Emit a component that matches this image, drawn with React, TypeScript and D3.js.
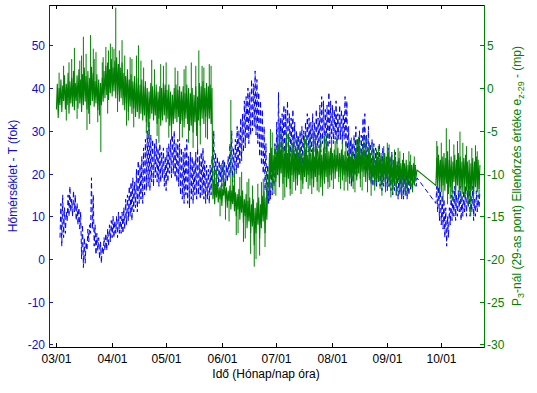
import React from "react";
import * as d3 from "d3";

// ---- Data ----
// Days counted from 03/01. Daily low / high of the temperature (left axis, °C)
const BLUE_START = 2;
const blueLo = [5,3,5,6,9,10,11,10,11,9,8,7,0,-2,-1,2,4,6,7,3,1,2,0,-1,1,2,2,3,4,5,5,6,5,6,6,6,7,8,9,10,9,11,12,11,13,14,13,15,16,17,16,18,17,19,18,17,18,19,17,16,18,20,19,20,19,18,17,15,14,13,15,13,12,14,13,15,14,15,14,15,14,13,14,13,15,18,17,18,17,18,17,18,17,18,19,20,18,19,20,21,22,23,25,26,28,27,29,30,31,29,27,24,22,20,16,14,13,14,15,17,19,21,22,23,25,24,26,25,24,25,23,22,21,20,21,22,23,24,25,24,25,24,25,24,26,25,27,26,25,26,27,28,27,28,27,28,28,27,28,26,22,19,17,18,20,19,21,20,22,21,20,21,19,18,17,18,17,18,17,16,17,16,16,17,16,15,16,15,14,15,14,14,15,14,15,16,16,17,17];
const blueHi = [13,15,12,11,15,17,14,16,15,13,12,11,8,5,4,7,8,19,15,8,6,5,4,3,5,6,7,8,9,10,9,10,11,10,11,12,14,15,17,18,19,18,21,23,22,24,26,28,30,32,29,28,27,28,26,27,25,26,24,26,27,28,29,30,27,28,27,26,25,26,28,24,25,24,23,25,26,24,25,26,23,22,21,22,24,30,25,24,23,22,23,23,22,24,27,30,26,28,31,30,33,34,37,38,40,39,42,41,44,42,39,37,35,31,27,22,20,21,23,27,32,39,33,34,36,35,37,34,33,35,32,30,29,30,31,30,32,34,33,32,34,32,35,33,36,38,37,35,36,39,37,36,35,37,34,36,35,34,38,37,31,28,27,29,31,28,30,29,33,34,29,31,27,28,27,26,25,27,24,26,25,24,26,24,25,23,25,22,23,21,22,20,21,20,21,20,21,22,19];
const BLUE_LATE_START = 211;
const blueLoLate = [13,11,9,8,7,5,3,5,8,9,10,9,10,11,9,10,11,10,12,10,11,9,10,11,12];
const blueHiLate = [17,17,16,15,14,12,10,12,15,16,17,15,16,17,15,16,17,16,17,15,17,14,16,15,16];

// Daily low / high of the check value (right axis, mp)
const GREEN_START = 0;
const greenLo = [-2.5,-3.5,-2,-2.8,-1.5,-2.5,-2,-3,-1.8,-2.2,-2.6,-1.5,-2.4,-1.8,-2.8,-2,-1.6,-2.5,-3,-2,-1.5,-2.2,-1.8,-2.6,-3.2,-2,-1.6,-1.2,-0.8,-1.4,-0.6,-1,-0.4,-1.2,-0.8,-1.6,-1.2,-2,-2.6,-1.8,-2.8,-2.2,-3,-2.4,-3.4,-2.8,-3.6,-3,-3.8,-3.2,-4,-4.6,-3.6,-3,-3.8,-3.2,-4.2,-3.6,-4.4,-3.8,-3.2,-4,-3.6,-4.4,-5,-4.2,-3.6,-4,-3.4,-4.2,-3.8,-4.6,-3.6,-4.2,-5,-4.4,-5.2,-4,-5.6,-3.8,-4.4,-3.6,-4.2,-3.4,-4,-3.6,-4.2,-13,-13.6,-12.8,-13.4,-13,-13.8,-12.6,-13.4,-14,-13.2,-14.2,-13.6,-14.4,-15,-14.2,-15.4,-14.6,-15.8,-15,-16.4,-15.6,-17,-16.2,-18.4,-17,-16,-17.6,-16.4,-15.6,-17,-15.4,-11.4,-10.6,-11.8,-10.4,-11,-10.2,-11.6,-10,-11.2,-10.4,-11.6,-10.6,-11.8,-10.2,-11,-10.6,-11.4,-10.2,-10.8,-11.2,-10.4,-11,-10.2,-11.4,-10.6,-11.6,-10.4,-11,-10.2,-11.6,-10.8,-11.2,-10.4,-11,-10.2,-10.8,-10,-10.6,-9.8,-10.4,-10,-10.8,-10.2,-11,-10.4,-11.2,-10.6,-11,-10.2,-10.8,-10,-10.6,-9.8,-10.4,-11,-10.2,-10.8,-11.2,-10.6,-11.4,-10.8,-11,-10.4,-11.2,-10.6,-11.4,-10.8,-11.6,-11,-11.8,-11.2,-11.6,-11,-11.8,-11.2,-11.6,-11,-11.8,-11.2,-11.6,-11,-11.4,-10.4];
const greenHi = [0.5,0,1,0.3,1.5,0.5,1.8,0.8,1.2,2,0.6,1.5,2.2,1,1.6,2.4,1.4,2,1.2,2.5,1.8,0.8,1.6,1,0.6,1.2,2,2.6,3,2.2,3.4,2.4,3.2,3.6,2.8,2.4,3,1.8,1.4,2.2,1,1.6,0.8,1.4,0.6,1.2,0.4,1,0.2,0.8,0,-0.4,0.6,0.2,-0.2,0.4,-0.4,0.2,0,0.6,0.4,-0.2,0.4,-0.4,-0.8,0,0.4,-0.2,0.2,-0.4,0.2,-0.6,0.4,0,-0.6,0,-0.8,0.2,-1,0.6,0.2,0.8,0,0.6,0.2,0.4,0,-10.8,-11.2,-11,-11.6,-11.4,-11.8,-11,-11.6,-12,-11.4,-12,-11.4,-12.2,-12.4,-11.8,-12.6,-12,-13,-12.4,-13.2,-12.8,-13.6,-13,-14,-13.4,-12.8,-13.6,-12.6,-12,-12.8,-11.8,-7.6,-7,-7.8,-6.8,-7.4,-6.6,-7.2,-6.2,-7,-6.4,-7.6,-6.8,-7.2,-6.4,-7.6,-7.2,-8,-7,-7.6,-8,-7.2,-7.8,-6.8,-7.6,-7,-8,-6.8,-7.4,-6.6,-7.8,-7,-7.6,-6.8,-7.4,-7,-7.6,-7.2,-7.8,-7,-7.6,-7.2,-7.8,-7.4,-8,-7.6,-8.2,-7.4,-8,-7.2,-7.6,-6.8,-7.4,-6.6,-7.2,-7.8,-7,-7.6,-8.2,-7.8,-8.4,-8,-8.2,-7.6,-8.2,-7.6,-8,-7.4,-8.2,-7.8,-8.4,-8,-8.6,-8.2,-8.8,-8.4,-8.8,-8.4,-9,-8.6,-9,-8.8,-9.2,-9.6];
const GREEN_LATE_START = 211;
const greenLoLate = [-11.4,-12,-11,-12.2,-11.4,-12,-11.2,-12.4,-11.6,-12.2,-11,-12,-11.4,-12.2,-11.6,-12.4,-11.2,-12,-12.6,-13.2,-12,-12.4,-11.6,-12.2,-11.8];
const greenHiLate = [-8.2,-7.8,-8.4,-8,-7.6,-8.2,-7.4,-8.4,-8,-8.6,-7.8,-8.4,-7.6,-8,-8.6,-8.2,-7.8,-8.6,-8.4,-8.8,-8.2,-8.6,-8,-8.4,-9];
// Isolated spikes of the check value: day, value
const greenSpikeDays = [4,7,10,13,15,17,19,21,22,24.7,26,29,31,33,35,38,40,42,45.6,47,50,53,56,58,61,64,66,70,72,75,76,78.5,79.2,81,83,85,89,92,94,97,99,101,103,105,107,110,112,113,115,116,119,121,124,126,128,130,134,137,139,143,146,149,151,155,157,163,165,168,170,172,178,180,185,187,190,194,196,212,216.8,220,224.4,227,230.4,233,
  1.5,5.5,8.5,11.5,14,16.5,18.5,20.5,23,25.5,27.5,28.5,30,32,34,36.5,39,41,43,44.5,48.5,51.5,54.5,57,59.5,62.5,67.5,68.5,71,73.5,77.5,80,82,84,86,
  88,91,93,96,98,100,102,104,106,108,109,111,114,117,
  118.5,120,122,123,125,127,129,131,132,133,135,136,138,140,141,142,144,145,147,148,150,152,153,154,156,158,159,160,161,162,164,166,167,169,171,173,174,175,176,177,179,181,182,183,184,186,188,189,191,192,193,195,197,198,199,
  211.5,213,214,215,217.5,218.5,219,221,222,223,225,226,228,229,231,232,234,235];
const greenSpikeVals = [2.6,3,4.7,3.2,6,-4.9,6.2,3.4,4.2,-7.5,3.6,4.4,4.8,9.4,4.4,3.8,-3.8,3.4,5,3.2,-5.3,3.3,-5.6,2.8,3,-6.1,2.4,-5.8,2.6,3,-7,-7.3,4.4,2.6,-5.8,2.8,-9.4,-8.8,-15.4,-1.4,-9.6,-17,-9.8,-17.6,-10.6,-20.9,-11.2,-19.6,-10.6,-18.6,-4.8,-12.4,-4.1,-13.1,-5.2,-12.6,-5.6,-11.8,-6,-5.3,-12.2,-5.6,-11.8,-6.2,-11,-6.4,-11.8,-5.7,-12,-6,-7.2,-11.8,-6.6,-12.4,-7,-12.6,-7.4,-6.8,-4.7,-13.2,-5.1,-12.8,-15,-6.7,
  1.8,-3.8,3.4,-3.6,3.8,4,-4.2,4.6,-4,3,4.8,-3,5.2,4.6,-2.8,5.6,-4.4,3.6,-4.6,3.8,2.4,-6,2.2,-6.4,2.6,-5.8,2,-6.2,2.2,-6.4,2.6,-6.6,2.4,-6,2.6,
  -9.6,-15,-8.4,-15.6,-10.2,-17.2,-10.4,-18,-11,-19.4,-11.4,-20,-11,-9.8,
  -13.2,-5.2,-12.6,-5.4,-4.8,-12.8,-5.4,-12.4,-5.8,-12,-6,-12.4,-5.6,-11.8,-5.4,-12.4,-5.6,-12,-5.8,-12.6,-5.4,-11.6,-6,-11.8,-5.8,-11.8,-6.2,-12,-6.4,-12,-5.8,-12.2,-6,-11.6,-5.6,-12.2,-6.4,-12.6,-6.6,-12,-6.8,-12.6,-6.8,-12.2,-6.4,-12.8,-7.2,-12.6,-7.4,-12.8,-7.6,-12.4,-7.8,-12.2,-8,
  -6.2,-13,-6.4,-13.4,-13.6,-6,-13,-6.6,-13.2,-6.2,-13.4,-6.4,-6.8,-13.6,-7,-13.2,-7.4,-13];

// Axis ticks
const xTickDays = [0, 31, 61, 92, 122, 153, 184, 214];
const xTickLabels = ["03/01", "04/01", "05/01", "06/01", "07/01", "08/01", "09/01", "10/01"];
const leftTicks = [-20, -10, 0, 10, 20, 30, 40, 50];
const rightTicks = [-30, -25, -20, -15, -10, -5, 0, 5];

const W = 537, H = 393;
const X0 = 49, X1 = 484, Y0 = 5, Y1 = 347;
const BLUE = "#0000ff";
const GREEN = "#008000";
const FONT = "'Liberation Sans', Arial, Helvetica, sans-serif";

export default function App() {
  const x = d3.scaleLinear().domain([-4.12, 237.76]).range([X0, X1]);
  const yL = d3.scaleLinear().domain([-20.59, 59.43]).range([Y1, Y0]);
  const yR = d3.scaleLinear().domain([-30.295, 9.715]).range([Y1, Y0]);

  const bluePts: [number, number][] = [];
  blueLo.forEach((lo, i) => { const d = BLUE_START + i; bluePts.push([d, lo], [d + 0.5, blueHi[i]]); });
  blueLoLate.forEach((lo, i) => { const d = BLUE_LATE_START + i; bluePts.push([d, lo], [d + 0.5, blueHiLate[i]]); });

  const greenPts: [number, number][] = [];
  greenLo.forEach((lo, i) => { const d = GREEN_START + i; greenPts.push([d, lo], [d + 0.5, greenHi[i]]); });
  greenLoLate.forEach((lo, i) => { const d = GREEN_LATE_START + i; greenPts.push([d, lo], [d + 0.5, greenHiLate[i]]); });

  const lineL = d3.line<[number, number]>().x(p => x(p[0])).y(p => yL(p[1]));
  const lineR = d3.line<[number, number]>().x(p => x(p[0])).y(p => yR(p[1]));

  const midAt = (d: number) => {
    const i = Math.floor(d);
    if (i >= GREEN_LATE_START) {
      const k = Math.min(i - GREEN_LATE_START, greenLoLate.length - 1);
      return (greenLoLate[k] + greenHiLate[k]) / 2;
    }
    const k = Math.min(i - GREEN_START, greenLo.length - 1);
    return (greenLo[k] + greenHi[k]) / 2;
  };
  const spikePath = greenSpikeDays
    .map((d, i) => `M${x(d)},${yR(midAt(d))}L${x(d)},${yR(greenSpikeVals[i])}`)
    .join("");

  const tl = 4;
  return (
    <svg width={W} height={H} style={{ position: "absolute", left: 0, top: 0, background: "#fff" }} fontFamily={FONT} fontSize={12}>
      <defs>
        <clipPath id="plotclip"><rect x={X0} y={Y0} width={X1 - X0} height={Y1 - Y0} /></clipPath>
      </defs>
      <rect x={0} y={0} width={W} height={H} fill="#fff" />
      <g clipPath="url(#plotclip)">
        <path d={lineL(bluePts) || ""} fill="none" stroke={BLUE} strokeWidth={1} strokeDasharray="5,3" />
        <path d={lineR(greenPts) || ""} fill="none" stroke={GREEN} strokeWidth={1.1} />
        <path d={spikePath} fill="none" stroke={GREEN} strokeWidth={1} />
      </g>
      {/* frame */}
      <line x1={X0} x2={X1} y1={Y0 + 0.5} y2={Y0 + 0.5} stroke="#000" />
      <line x1={X0} x2={X1} y1={Y1 + 0.5} y2={Y1 + 0.5} stroke="#000" />
      <line x1={X0 + 0.5} x2={X0 + 0.5} y1={Y0} y2={Y1 + 1} stroke="#1a1aa8" />
      <line x1={X1 + 0.5} x2={X1 + 0.5} y1={Y0} y2={Y1 + 1} stroke={GREEN} />
      {/* x ticks */}
      {xTickDays.map((d, i) => {
        const px = Math.round(x(d)) + 0.5;
        return (
          <g key={"xt" + i}>
            <line x1={px} x2={px} y1={Y1} y2={Y1 - tl} stroke="#000" />
            <line x1={px} x2={px} y1={Y0} y2={Y0 + tl} stroke="#000" />
            <text x={px} y={363} textAnchor="middle" fill="#000">{xTickLabels[i]}</text>
          </g>
        );
      })}
      {/* left ticks */}
      {leftTicks.map(v => {
        const py = Math.round(yL(v)) + 0.5;
        return (
          <g key={"lt" + v}>
            <line x1={X0} x2={X0 + tl} y1={py} y2={py} stroke="#1a1aa8" />
            <text x={45} y={py + 4} textAnchor="end" fill="#1010c8">{v}</text>
          </g>
        );
      })}
      {/* right ticks */}
      {rightTicks.map(v => {
        const py = Math.round(yR(v)) + 0.5;
        return (
          <g key={"rt" + v}>
            <line x1={X1 - tl} x2={X1} y1={py} y2={py} stroke={GREEN} />
            <text x={487} y={py + 4} textAnchor="start" fill={GREEN}>{v}</text>
          </g>
        );
      })}
      {/* axis titles */}
      <text x={266} y={378} textAnchor="middle" fill="#000">Idő (Hónap/nap óra)</text>
      <text transform="translate(17,176) rotate(-90)" textAnchor="middle" fill="#1010c8">Hőmérséklet - T (fok)</text>
      <text transform="translate(521,176) rotate(-90)" textAnchor="middle" fill={GREEN}>
        P<tspan fontSize={9} dy={3}>3</tspan><tspan dy={-3}>-nál (29-as pont) Ellenőrzés értéke e</tspan><tspan fontSize={9} dy={3}>z-29</tspan><tspan dy={-3}> - (mp)</tspan>
      </text>
    </svg>
  );
}
